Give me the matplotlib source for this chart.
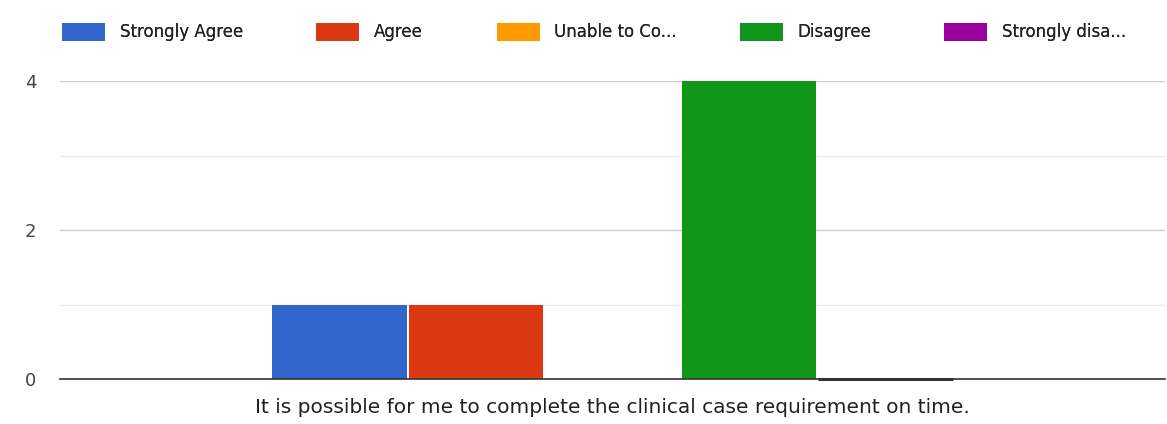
import numpy as np
import matplotlib.pyplot as plt
from matplotlib.patches import Patch

question = "It is possible for me to complete the clinical case requirement on time."
series = ["Strongly Agree", "Agree", "Unable to Co...", "Disagree", "Strongly disa..."]
counts = [1, 1, 0, 4, 0]
colors = ["#3366cc", "#dc3912", "#ff9900", "#109618", "#990099"]

fig = plt.figure(figsize=(11.67, 4.24), dpi=100)
ax = fig.add_axes([60 / 1167, 1 - 379 / 424, 1105 / 1167, 298 / 424])

width = 0.618 / len(series)
offsets = (np.arange(len(series)) - (len(series) - 1) / 2) * width
for off, val, col, name in zip(offsets, counts, colors, series):
    ax.bar(off, val, width=width * 0.985, color=col, label=name, zorder=3, clip_on=False)
# zero-height bar for the last series shows as a dark stub on the baseline
ax.bar(offsets[-1], counts[-1], width=width * 0.985, color="none",
       edgecolor="#333333", linewidth=2.2, zorder=6, clip_on=False)

ax.set_xlim(-0.5, 0.5)
ax.set_ylim(0, 4)
ax.set_yticks([0, 2, 4])
ax.set_yticks([1, 3], minor=True)
ax.grid(axis="y", which="major", color="#cccccc", linewidth=1, zorder=0)
ax.grid(axis="y", which="minor", color="#ebebeb", linewidth=1, zorder=0)
ax.tick_params(axis="y", which="both", length=0, pad=17, labelsize=13, labelcolor="#444444")
ax.set_xticks([])
ax.set_xlabel(question, fontsize=14.5, color="#222222", labelpad=14)
for s in ["top", "right", "left"]:
    ax.spines[s].set_visible(False)
ax.spines["bottom"].set_color("#333333")
ax.spines["bottom"].set_linewidth(1.2)
ax.spines["bottom"].set_zorder(5)

# legend entries placed one by one, as spaced in the reference
legend_x = [62, 316, 497, 740, 944]
for lx, c, n in zip(legend_x, colors, series):
    leg = fig.legend(handles=[Patch(facecolor=c, label=n)], loc="center left",
                     bbox_to_anchor=(lx / 1167, 1 - 32 / 424), bbox_transform=fig.transFigure,
                     frameon=False, fontsize=12, handlelength=2.6, handleheight=1.35,
                     handletextpad=0.85, borderpad=0, borderaxespad=0, labelcolor="#222222")
    fig.add_artist(leg)

fig.savefig("out.png", dpi=100)
plt.close(fig)
